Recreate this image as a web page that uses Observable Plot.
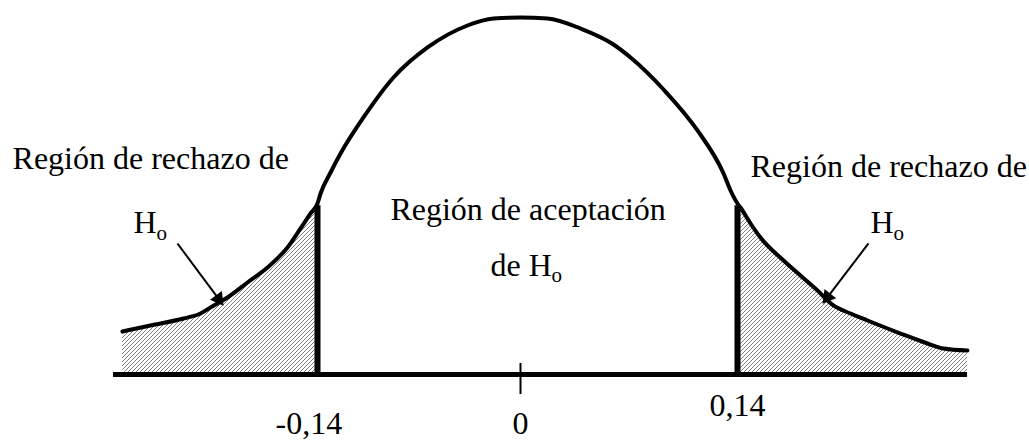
<!DOCTYPE html>
<html><head><meta charset="utf-8">
<script src="https://cdn.jsdelivr.net/npm/d3@7"></script>
<script src="https://cdn.jsdelivr.net/npm/@observablehq/plot@0.6"></script>
<style>body{margin:0;background:#fff;}</style>
</head><body><div id="chart"></div>
<script>
// Curve (density-like shape)
const curveX = [-0.2745,-0.2552,-0.2324,-0.2207,-0.2138,-0.2021,-0.1883,-0.1745,-0.1607,-0.1517,-0.1448,-0.14,-0.1379,-0.1310,-0.1241,-0.1083,-0.0876,-0.0641,-0.0366,-0.0186,0,
  0.0174,0.0387,0.0600,0.0710,0.0923,0.1142,0.1310,0.1355,0.14,0.1419,0.1484,0.1548,0.1697,0.1806,0.1916,0.2019,0.2129,0.2239,0.2452,0.2626,0.2729,0.2884];
const curveY = [0.1204,0.1373,0.1569,0.1709,0.1877,0.2157,0.2577,0.2997,0.3557,0.4090,0.4510,0.4790,0.5070,0.5658,0.6190,0.7199,0.8319,0.9160,0.9776,0.9972,1.0,
  0.9972,0.9692,0.9244,0.8880,0.7983,0.6835,0.5630,0.5154,0.4790,0.4678,0.4230,0.3838,0.3193,0.2773,0.2353,0.1933,0.1709,0.1513,0.1148,0.0868,0.0728,0.0672];
const criticalValues = [-0.14, 0.14];
const criticalTop = [0.473, 0.473];
const axisStart = -0.2807, axisEnd = 0.2884;
const tickMark = [0];
const tickLabels = ["-0,14", "0", "0,14"];
const tickLabelX = [-0.146, 0, 0.14];
const tickLabelY = [-0.168, -0.168, -0.115];
// Annotation texts
const mainTexts = ["Región de rechazo de", "H", "Región de aceptación", "de H", "Región de rechazo de", "H"];
const mainX = [-0.3503, -0.2669, -0.0897, -0.0207, 0.1484, 0.2258];
const mainY = [0.577, 0.395, 0.434, 0.277, 0.552, 0.395];
const subTexts = ["o", "o", "o"];
const subX = [-0.2510, 0.0200, 0.2406];
const subY = [0.378, 0.2605, 0.378];
// Arrows
const arrowX1 = [-0.2366, 0.2245], arrowY1 = [0.367, 0.367];
const arrowX2 = [-0.2060, 0.1960], arrowY2 = [0.200, 0.205];
const headX = [-0.2083, 0.1982], headY = [0.212, 0.217], headAngle = [143, -142];

const curve = curveX.map((x, i) => ({x, y: curveY[i]}));
const leftTail = curve.filter(d => d.x <= -0.14);
const rightTail = curve.filter(d => d.x >= 0.14);
const crit = criticalValues.map((x, i) => ({x, top: criticalTop[i]}));
const ticks = tickLabels.map((t, i) => ({t, x: tickLabelX[i], y: tickLabelY[i]}));
const mains = mainTexts.map((t, i) => ({t, x: mainX[i], y: mainY[i]}));
const subs = subTexts.map((t, i) => ({t, x: subX[i], y: subY[i]}));
const arrows = arrowX1.map((x1, i) => ({x1, y1: arrowY1[i], x2: arrowX2[i], y2: arrowY2[i], hx: headX[i], hy: headY[i], a: headAngle[i]}));

const defsMark = () => {
  const ns = "http://www.w3.org/2000/svg";
  const defs = document.createElementNS(ns, "defs");
  const p = document.createElementNS(ns, "pattern");
  p.setAttribute("id", "hatch");
  p.setAttribute("patternUnits", "userSpaceOnUse");
  p.setAttribute("width", "4");
  p.setAttribute("height", "4");
  const path = document.createElementNS(ns, "path");
  path.setAttribute("d", "M-1,1 l2,-2 M0,4 l4,-4 M3,5 l2,-2");
  path.setAttribute("stroke", "#808080");
  path.setAttribute("stroke-width", "1");
  p.appendChild(path);
  defs.appendChild(p);
  return defs;
};

const font = "Liberation Serif, Times New Roman, serif";
const crv = "monotone-x";
const chart = Plot.plot({
  width: 1029, height: 441, margin: 0,
  style: {background: "#fff", color: "#000"},
  x: {type: "linear", domain: [-0.14, 0, 0.14], range: [317, 520, 737], axis: null},
  y: {domain: [0, 1], range: [374, 17], axis: null},
  marks: [
    defsMark,
    Plot.areaY(leftTail, {x: "x", y: "y", fill: "url(#hatch)", curve: crv}),
    Plot.areaY(rightTail, {x: "x", y: "y", fill: "url(#hatch)", curve: crv}),
    Plot.line(curve, {x: "x", y: "y", stroke: "#000", strokeWidth: 4, curve: crv}),
    Plot.ruleX(crit, {x: "x", y1: 0, y2: "top", stroke: "#000", strokeWidth: 6}),
    Plot.ruleY([0], {x1: axisStart, x2: axisEnd, stroke: "#000", strokeWidth: 5}),
    Plot.ruleX(tickMark, {y1: -0.056, y2: 0.031, stroke: "#000", strokeWidth: 2}),
    Plot.link(arrows, {x1: "x1", y1: "y1", x2: "x2", y2: "y2", stroke: "#000", strokeWidth: 2}),
    Plot.dot(arrows, {x: "hx", y: "hy", symbol: "triangle", r: 5.5, fill: "#000", stroke: "none", rotate: "a"}),
    Plot.text(mains, {x: "x", y: "y", text: "t", textAnchor: "start", lineAnchor: "bottom", fontSize: 32, fontFamily: font, fill: "#000"}),
    Plot.text(subs, {x: "x", y: "y", text: "t", textAnchor: "start", lineAnchor: "bottom", fontSize: 21, fontFamily: font, fill: "#000"}),
    Plot.text(ticks, {x: "x", y: "y", text: "t", textAnchor: "middle", lineAnchor: "bottom", fontSize: 32, fontFamily: font, fill: "#000"})
  ]
});
document.getElementById("chart").appendChild(chart);
</script>
</body></html>
